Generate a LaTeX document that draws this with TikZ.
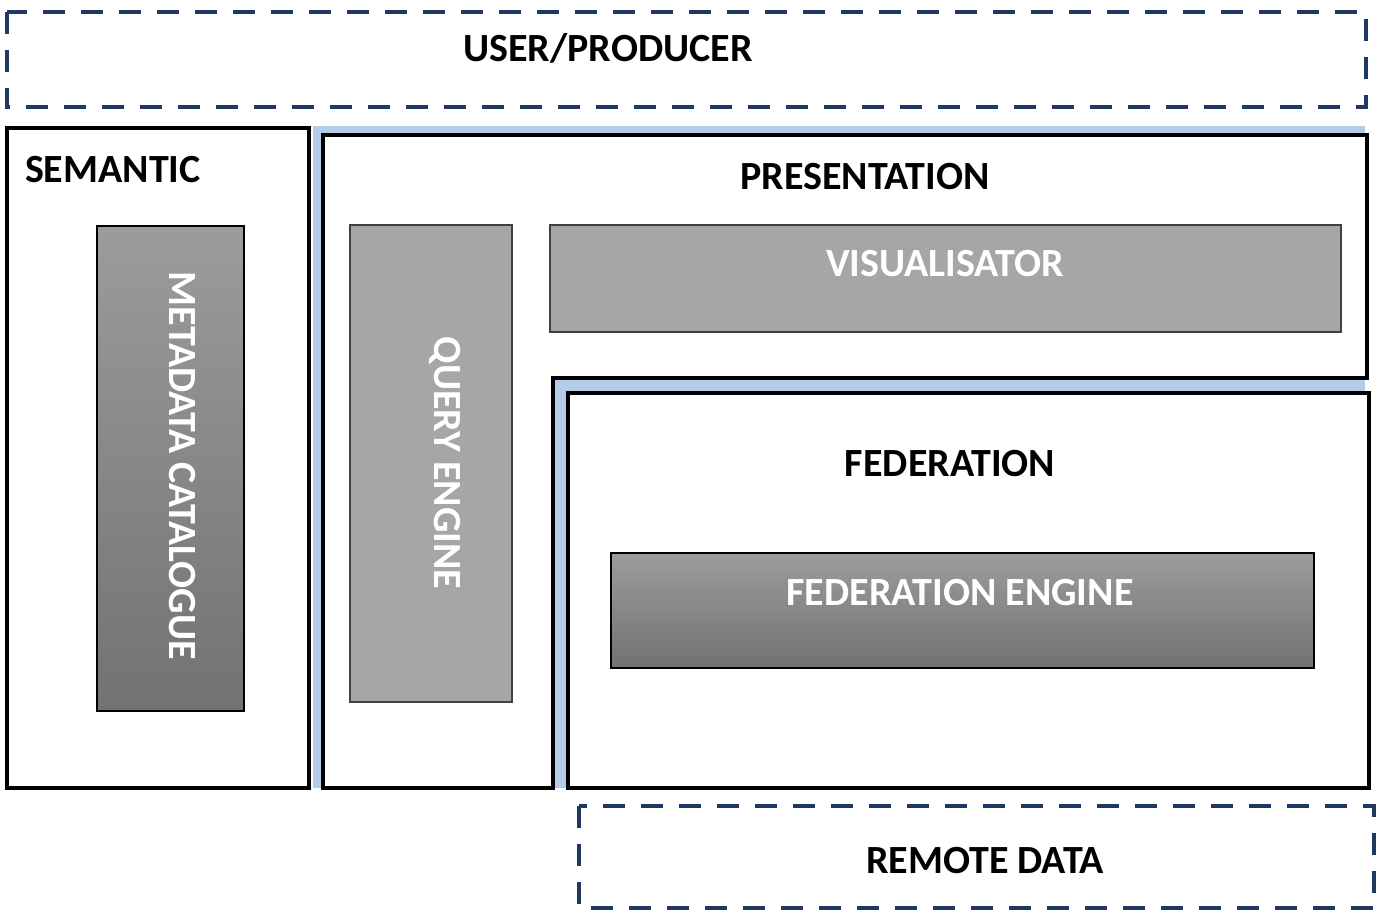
\documentclass[tikz,border=0pt]{standalone}
\usepackage{fontspec}
\setmainfont{Carlito}
\usepackage{tikz}
\usepackage{xcolor}

\definecolor{navy}{HTML}{1F3864}
\definecolor{paleblue}{HTML}{B4CCEA}
\definecolor{flatgray}{HTML}{A6A6A6}
\definecolor{shadetop}{HTML}{9C9C9C}
\definecolor{shadebot}{HTML}{727272}

\begin{document}
\begin{tikzpicture}[x=0.5pt,y=-0.5pt,
    layer/.style={draw=black,line width=2pt,fill=white},
    outer/.style={draw=navy,line width=2pt,dash pattern=on 11pt off 8pt},
    darkbox/.style={draw=black,line width=0.8pt,top color=shadetop,bottom color=shadebot},
    flatbox/.style={draw=black!75,line width=0.8pt,fill=flatgray},
    title/.style={font=\bfseries\fontsize{20}{22}\selectfont,text=black},
    inner/.style={font=\bfseries\fontsize{20}{22}\selectfont,text=white}]
    \useasboundingbox (0,0) rectangle (1382,915);

    % outer actors
    \draw[outer] (7,12) rectangle (1366,107);
    \node[title] (user) at (608,48) {USER/PRODUCER};
    \draw[outer] (579,806) rectangle (1374,908);
    \node[title] (remote) at (985,861) {REMOTE DATA};

    % semantic layer
    \draw[layer] (7,128) rectangle (309,788);
    \node[title,anchor=west] (semantic) at (18,170) {SEMANTIC};
    \draw[darkbox] (97,226) rectangle (244,711);
    \node[inner,rotate=-90] (catalogue) at (182,466) {METADATA CATALOGUE};

    % blue backing behind presentation and federation
    \fill[paleblue] (313,126) rectangle (1365,788);

    % presentation layer
    \draw[layer] (323,135) -- (1367,135) -- (1367,378) -- (553,378)
        -- (553,788) -- (323,788) -- cycle;
    \node[title] (presentation) at (865,177) {PRESENTATION};
    \draw[flatbox] (350,225) rectangle (512,702);
    \node[inner,rotate=-90] (query) at (445,463) {QUERY ENGINE};
    \draw[flatbox] (550,225) rectangle (1341,332);
    \node[inner] (visual) at (945,264) {VISUALISATOR};

    % federation layer
    \draw[layer] (568,393) rectangle (1369,788);
    \node[title] (federation) at (950,464) {FEDERATION};
    \draw[darkbox] (611,553) rectangle (1314,668);
    \node[inner] (fedengine) at (960,593) {FEDERATION ENGINE};
\end{tikzpicture}
\end{document}
